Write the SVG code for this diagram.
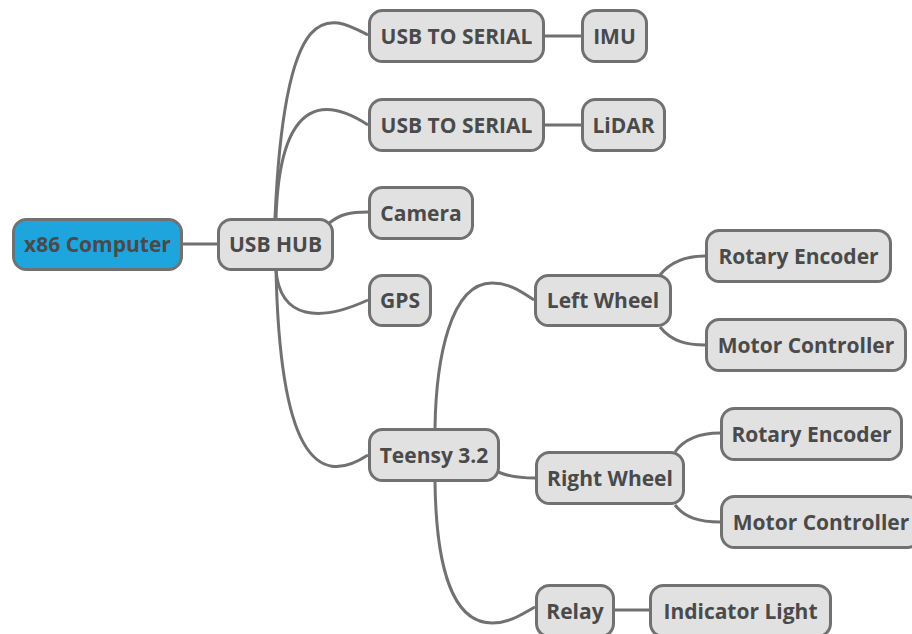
<svg xmlns="http://www.w3.org/2000/svg" width="912" height="634" viewBox="0 0 912 634">
<style>
.n rect{fill:#e1e1e1;stroke:#717171;stroke-width:3}
.root rect{fill:#1fa5dd}
.n text{font-family:"Open Sans","Noto Sans","DejaVu Sans",sans-serif;font-weight:bold;font-size:21px;fill:#4a4a4a;text-anchor:middle}
.c path{fill:none;stroke:#717171;stroke-width:3}
</style>
<rect width="912" height="634" fill="#ffffff"/>
<g class="c" id="connectors">
<path d="M183,244 L217,244"/>
<path d="M275,218 C285,-10 330,15 368,35"/>
<path d="M276,218 C280,90 330,100 368,125"/>
<path d="M328,224 C340,214 350,212 368,212"/>
<path d="M276,270 C280,320 320,322 368,300"/>
<path d="M276,270 C280,450 315,490 368,455"/>
<path d="M545,36 L581,36"/>
<path d="M545,125 L581,125"/>
<path d="M435,428 C436,360 450,283 492,283 C510,283 522,292 534,300"/>
<path d="M435,482 C436,560 450,623 492,623 C510,623 522,614 535,607"/>
<path d="M498,472 C510,477 520,478 535,478"/>
<path d="M660,275 C672,260 688,256 705,256"/>
<path d="M660,327 C672,342 688,345 705,345"/>
<path d="M675,452 C685,438 700,433 720,433"/>
<path d="M675,505 C685,518 700,522 720,522"/>
<path d="M615,610 L649,610"/>
</g>
<g class="n root" id="x86"><rect x="13.5" y="219.5" width="168" height="50" rx="13"/><text x="97.5" y="252">x86 Computer</text></g>
<g class="n" id="usbhub"><rect x="218.5" y="219.5" width="114" height="50" rx="13"/><text x="275.5" y="252">USB HUB</text></g>
<g class="n" id="uts1"><rect x="369.5" y="10.5" width="174" height="51" rx="13"/><text x="456.5" y="43.5">USB TO SERIAL</text></g>
<g class="n" id="imu"><rect x="582.5" y="10.5" width="64" height="51" rx="13"/><text x="614.5" y="43.5">IMU</text></g>
<g class="n" id="uts2"><rect x="369.5" y="99.5" width="174" height="51" rx="13"/><text x="456.5" y="132.5">USB TO SERIAL</text></g>
<g class="n" id="lidar"><rect x="582.5" y="99.5" width="82" height="51" rx="13"/><text x="623.5" y="132.5">LiDAR</text></g>
<g class="n" id="camera"><rect x="369.5" y="187.5" width="103" height="51" rx="13"/><text x="421" y="220.5">Camera</text></g>
<g class="n" id="gps"><rect x="369.5" y="275.5" width="61" height="50" rx="13"/><text x="400" y="308">GPS</text></g>
<g class="n" id="teensy"><rect x="369.5" y="429.5" width="129" height="51" rx="13"/><text x="434" y="462.5">Teensy 3.2</text></g>
<g class="n" id="leftwheel"><rect x="535.5" y="275.5" width="135" height="50" rx="13"/><text x="603" y="308">Left Wheel</text></g>
<g class="n" id="re1"><rect x="706.5" y="230.5" width="184" height="51" rx="13"/><text x="798.5" y="263.5">Rotary Encoder</text></g>
<g class="n" id="mc1"><rect x="706.5" y="319.5" width="199" height="51" rx="13"/><text x="806" y="352.5">Motor Controller</text></g>
<g class="n" id="rightwheel"><rect x="536.5" y="452.5" width="147" height="51" rx="13"/><text x="610" y="485.5">Right Wheel</text></g>
<g class="n" id="re2"><rect x="721.5" y="408.5" width="180" height="51" rx="13"/><text x="811.5" y="441.5">Rotary Encoder</text></g>
<g class="n" id="mc2"><rect x="721.5" y="496.5" width="199" height="51" rx="13"/><text x="821" y="529.5">Motor Controller</text></g>
<g class="n" id="relay"><rect x="536.5" y="585.5" width="77" height="51" rx="13"/><text x="575" y="618.5">Relay</text></g>
<g class="n" id="light"><rect x="650.5" y="585.5" width="180" height="51" rx="13"/><text x="740.5" y="618.5">Indicator Light</text></g>
</svg>
